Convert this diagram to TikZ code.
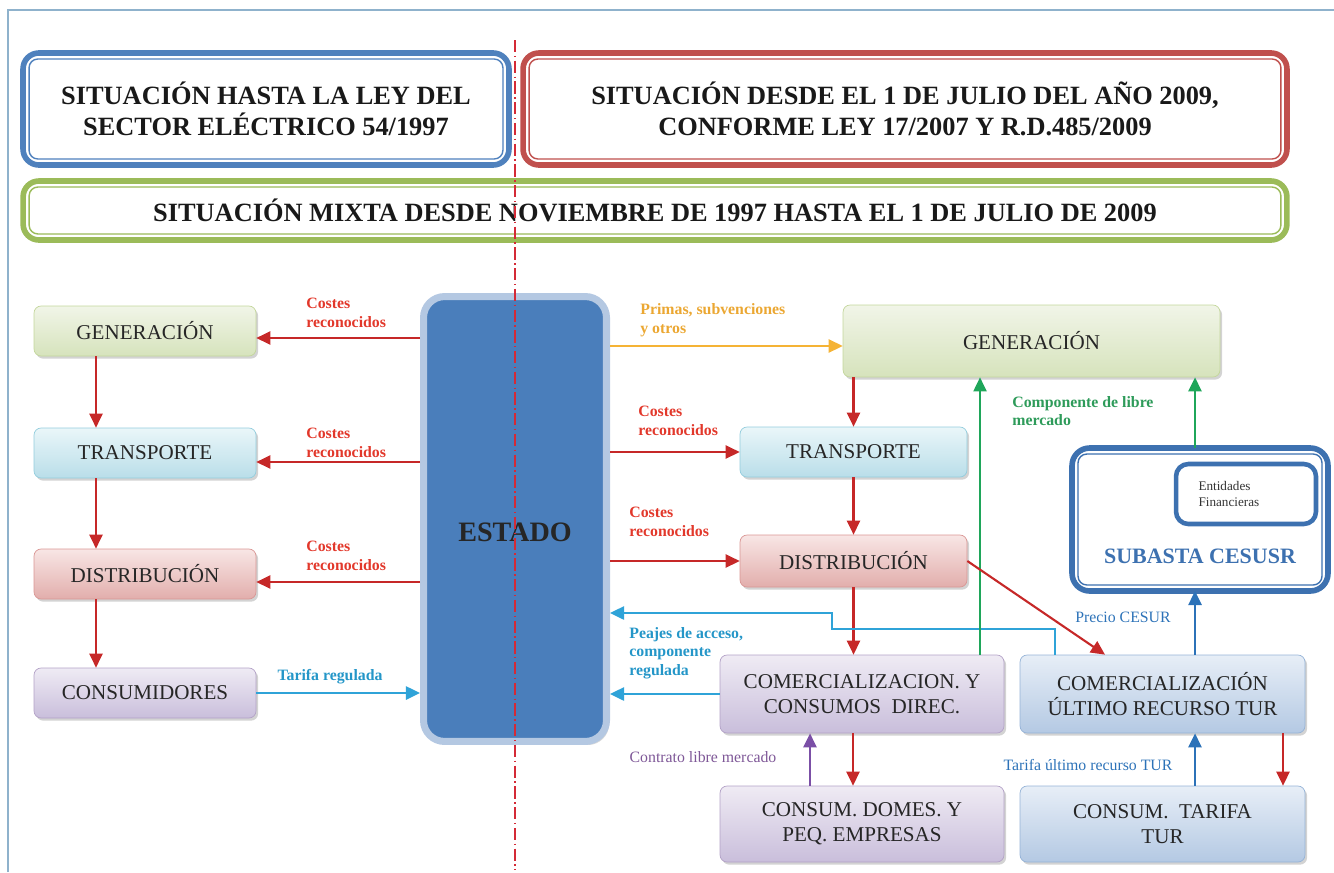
\documentclass[tikz,border=0pt]{standalone}
\usepackage{fontspec}
\setmainfont{Liberation Serif}
\usetikzlibrary{arrows.meta,shadows}

\definecolor{azulT}{HTML}{4F81BD}
\definecolor{rojoT}{HTML}{C0504D}
\definecolor{verdeT}{HTML}{9BBB59}
\definecolor{estadoC}{HTML}{4A7EBB}
\definecolor{estadoB}{HTML}{B4C8E2}
\definecolor{flechaR}{HTML}{C62828}
\definecolor{textoR}{HTML}{E2382B}
\definecolor{naranja}{HTML}{F5B335}
\definecolor{textoN}{HTML}{EBA732}
\definecolor{cian}{HTML}{2FA3D8}
\definecolor{textoC}{HTML}{2496C8}
\definecolor{verdeF}{HTML}{1FA65A}
\definecolor{textoV}{HTML}{2E9B5A}
\definecolor{morado}{HTML}{7B4FA6}
\definecolor{textoM}{HTML}{7E5797}
\definecolor{azulF}{HTML}{2C72B8}
\definecolor{azulS}{HTML}{3D71B0}
\definecolor{marco}{HTML}{8FB2CC}
\definecolor{ejeR}{HTML}{D42A36}
\definecolor{genA}{HTML}{F1F5E8}
\definecolor{genB}{HTML}{D6E3BC}
\definecolor{genL}{HTML}{C3D69B}
\definecolor{traA}{HTML}{EAF6F9}
\definecolor{traB}{HTML}{B9DEE9}
\definecolor{traL}{HTML}{93CDDD}
\definecolor{disA}{HTML}{F8E6E5}
\definecolor{disB}{HTML}{E2AEAC}
\definecolor{disL}{HTML}{D99694}
\definecolor{conA}{HTML}{EFEBF4}
\definecolor{conB}{HTML}{C9BEDB}
\definecolor{conL}{HTML}{B3A2C7}
\definecolor{turA}{HTML}{E7EEF7}
\definecolor{turB}{HTML}{B4C9E3}
\definecolor{turL}{HTML}{95B3D7}

\begin{document}
\begin{tikzpicture}[x=0.02cm, y=-0.02cm,
    caja/.style={rounded corners=4pt, draw=#1L, top color=#1A, bottom color=#1B,
        minimum height=1cm, align=center, text=black!85,
        font=\fontsize{12}{14}\selectfont,
        drop shadow={shadow xshift=1.2pt, shadow yshift=-1.5pt, fill=black!50, opacity=.35}},
    titulo/.style={draw=#1, line width=3.2pt, rounded corners=9pt, outer sep=0pt,
        fill=white, align=center, text=black!90, font=\bfseries\fontsize{15}{18}\selectfont},
    linea/.style={draw=#1, line width=0.8pt, rounded corners=5pt},
    flecha/.style={draw=#1, line width=1.2pt, -{Triangle[length=8pt,width=7.5pt]}},
    etiq/.style={text=#1, font=\bfseries\fontsize{9}{10.5}\selectfont, align=left, inner sep=0pt},
    nota/.style={text=#1, font=\fontsize{9}{10.5}\selectfont, inner sep=0pt}]
\useasboundingbox (0,0) rectangle (1334,872);
\draw[marco, line width=0.6pt] (8,872) -- (8,10) -- (1334,10);

\node[titulo=azulT, minimum width=9.72cm, minimum height=2.24cm] (H) at (266,109) {SITUACIÓN HASTA LA LEY DEL\\SECTOR ELÉCTRICO 54/1997};
\draw[linea=azulT] ([shift={(6,6)}]H.north west) rectangle ([shift={(-6,-6)}]H.south east);
\node[titulo=rojoT, minimum width=15.28cm, minimum height=2.24cm] (D) at (905,109) {SITUACIÓN DESDE EL 1 DE JULIO DEL AÑO 2009,\\CONFORME LEY 17/2007 Y R.D.485/2009};
\draw[linea=rojoT] ([shift={(6,6)}]D.north west) rectangle ([shift={(-6,-6)}]D.south east);
\node[titulo=verdeT, minimum width=25.28cm, minimum height=1.18cm] (M) at (655,210.5) {SITUACIÓN MIXTA DESDE NOVIEMBRE DE 1997 HASTA EL 1 DE JULIO DE 2009};
\draw[linea=verdeT] ([shift={(6,6)}]M.north west) rectangle ([shift={(-6,-6)}]M.south east);

\node[caja=gen, minimum width=4.44cm] (GL) at (145,331) {GENERACIÓN};
\node[caja=tra, minimum width=4.44cm] (TL) at (145,453) {TRANSPORTE};
\node[caja=dis, minimum width=4.44cm] (DL) at (145,574) {DISTRIBUCIÓN};
\node[caja=con, minimum width=4.44cm] (CL) at (145,693) {CONSUMIDORES};

\node[draw=estadoB, line width=4pt, fill=estadoC, rounded corners=12pt, minimum width=3.66cm, minimum height=8.9cm,
    drop shadow={shadow xshift=1.5pt, shadow yshift=-2pt, fill=black!50, opacity=.3}] (E) at (515,519) {};
\node[font=\bfseries\fontsize{16}{18}\selectfont, text=black!85] (ET) at (515,532) {ESTADO};

\node[caja=gen, minimum width=7.54cm, minimum height=1.44cm] (GR) at (1031.5,341) {GENERACIÓN};
\node[caja=tra, minimum width=4.54cm] (TR) at (853.5,452) {TRANSPORTE};
\node[caja=dis, minimum width=4.54cm, minimum height=1.04cm] (DR) at (853.5,561) {DISTRIBUCIÓN};
\node[caja=con, minimum width=5.68cm, minimum height=1.56cm] (CD) at (862,694) {COMERCIALIZACION. Y\\CONSUMOS\ \ DIREC.};
\node[caja=tur, minimum width=5.7cm, minimum height=1.56cm] (CT) at (1162.5,694) {COMERCIALIZACIÓN\\ÚLTIMO RECURSO TUR};
\node[caja=con, minimum width=5.68cm, minimum height=1.52cm] (PD) at (862,824) {CONSUM. DOMES. Y\\PEQ. EMPRESAS};
\node[caja=tur, minimum width=5.7cm, minimum height=1.52cm] (PT) at (1162.5,824) {CONSUM.\ \ TARIFA\\TUR};

\node[draw=azulS, line width=3.2pt, rounded corners=10pt, fill=white, outer sep=0pt, minimum width=5.12cm, minimum height=2.86cm] (S) at (1200,519.5) {};
\draw[linea=azulS] ([shift={(6,6)}]S.north west) rectangle ([shift={(-6,-6)}]S.south east);
\node[draw=azulS, line width=2.6pt, rounded corners=7pt, fill=white, minimum width=2.8cm, minimum height=1.2cm,
    text width=1.9cm, align=left, text=black!80, font=\fontsize{7.5}{9}\selectfont] (F) at (1246,494) {Entidades\\Financieras};
\node[font=\bfseries\fontsize{12.5}{14}\selectfont, text=azulS] (ST) at (1200,556) {SUBASTA CESUSR};

\draw[flecha=flechaR] (E.west |- 0,338) -- (GL.east |- 0,338);
\draw[flecha=flechaR] (E.west |- 0,462) -- (TL.east |- 0,462);
\draw[flecha=flechaR] (E.west |- 0,582) -- (DL.east |- 0,582);
\draw[flecha=flechaR] (96,0 |- GL.south) -- (96,0 |- TL.north);
\draw[flecha=flechaR] (96,0 |- TL.south) -- (96,0 |- DL.north);
\draw[flecha=flechaR] (96,0 |- DL.south) -- (96,0 |- CL.north);
\draw[flecha=cian] (CL.east) -- (E.west |- CL.east);
\node[etiq=textoR, anchor=west] (c1) at (306,313) {Costes\\reconocidos};
\node[etiq=textoR, anchor=west] (c2) at (306,443) {Costes\\reconocidos};
\node[etiq=textoR, anchor=west] (c3) at (306,556) {Costes\\reconocidos};
\node[etiq=textoC] (tr) at (330,677) {Tarifa regulada};

\draw[flecha=naranja] (E.east |- 0,346) -- (GR.west |- 0,346);
\draw[flecha=flechaR] (E.east |- TR.west) -- (TR.west);
\draw[flecha=flechaR] (E.east |- DR.west) -- (DR.west);
\draw[flecha=flechaR] (GR.south -| TR.north) -- (TR.north);
\draw[flecha=flechaR] (TR.south) -- (DR.north);
\draw[flecha=flechaR] (DR.south) -- (DR.south |- CD.north);
\draw[flecha=cian] (CD.west) -- (E.east |- CD.west);
\draw[flecha=cian] (CT.north -| 1055,0) |- (832,629) |- (E.east |- 0,613);
\draw[flecha=verdeF, line width=0.9pt] (CD.north -| 980,0) -- (GR.south -| 980,0);
\draw[flecha=verdeF] (S.north -| 1195,0) -- (GR.south -| 1195,0);
\draw[flecha=azulF] (CT.north -| 1195,0) -- (S.south -| 1195,0);
\draw[flecha=flechaR] (DR.east) -- (CT.north -| 1105,0);
\draw[flecha=flechaR] (CD.south -| 853,0) -- (PD.north -| 853,0);
\draw[flecha=morado] (PD.north -| 810,0) -- (CD.south -| 810,0);
\draw[flecha=azulF] (PT.north -| 1195,0) -- (CT.south -| 1195,0);
\draw[flecha=flechaR] (CT.south -| 1283,0) -- (PT.north -| 1283,0);

\node[etiq=textoN, anchor=west] (pr) at (640,320) {Primas, subvenciones\\y otros};
\node[etiq=textoR, anchor=west] (c4) at (638,421) {Costes\\reconocidos};
\node[etiq=textoR, anchor=west] (c5) at (629,522) {Costes\\reconocidos};
\node[etiq=textoC, anchor=west] (pe) at (629,653) {Peajes de acceso,\\componente\\regulada};
\node[etiq=textoV, anchor=west] (cl) at (1012,411) {Componente de libre\\mercado};
\node[nota=azulF] (pc) at (1123,617) {Precio CESUR};
\node[nota=textoM] (co) at (703,757) {Contrato libre mercado};
\node[nota=azulF] (tu) at (1088,765) {Tarifa último recurso TUR};

\draw[ejeR, line width=0.9pt, dash pattern=on 7pt off 2pt on 0.8pt off 2pt] (515,40) -- (515,870);
\end{tikzpicture}
\end{document}
